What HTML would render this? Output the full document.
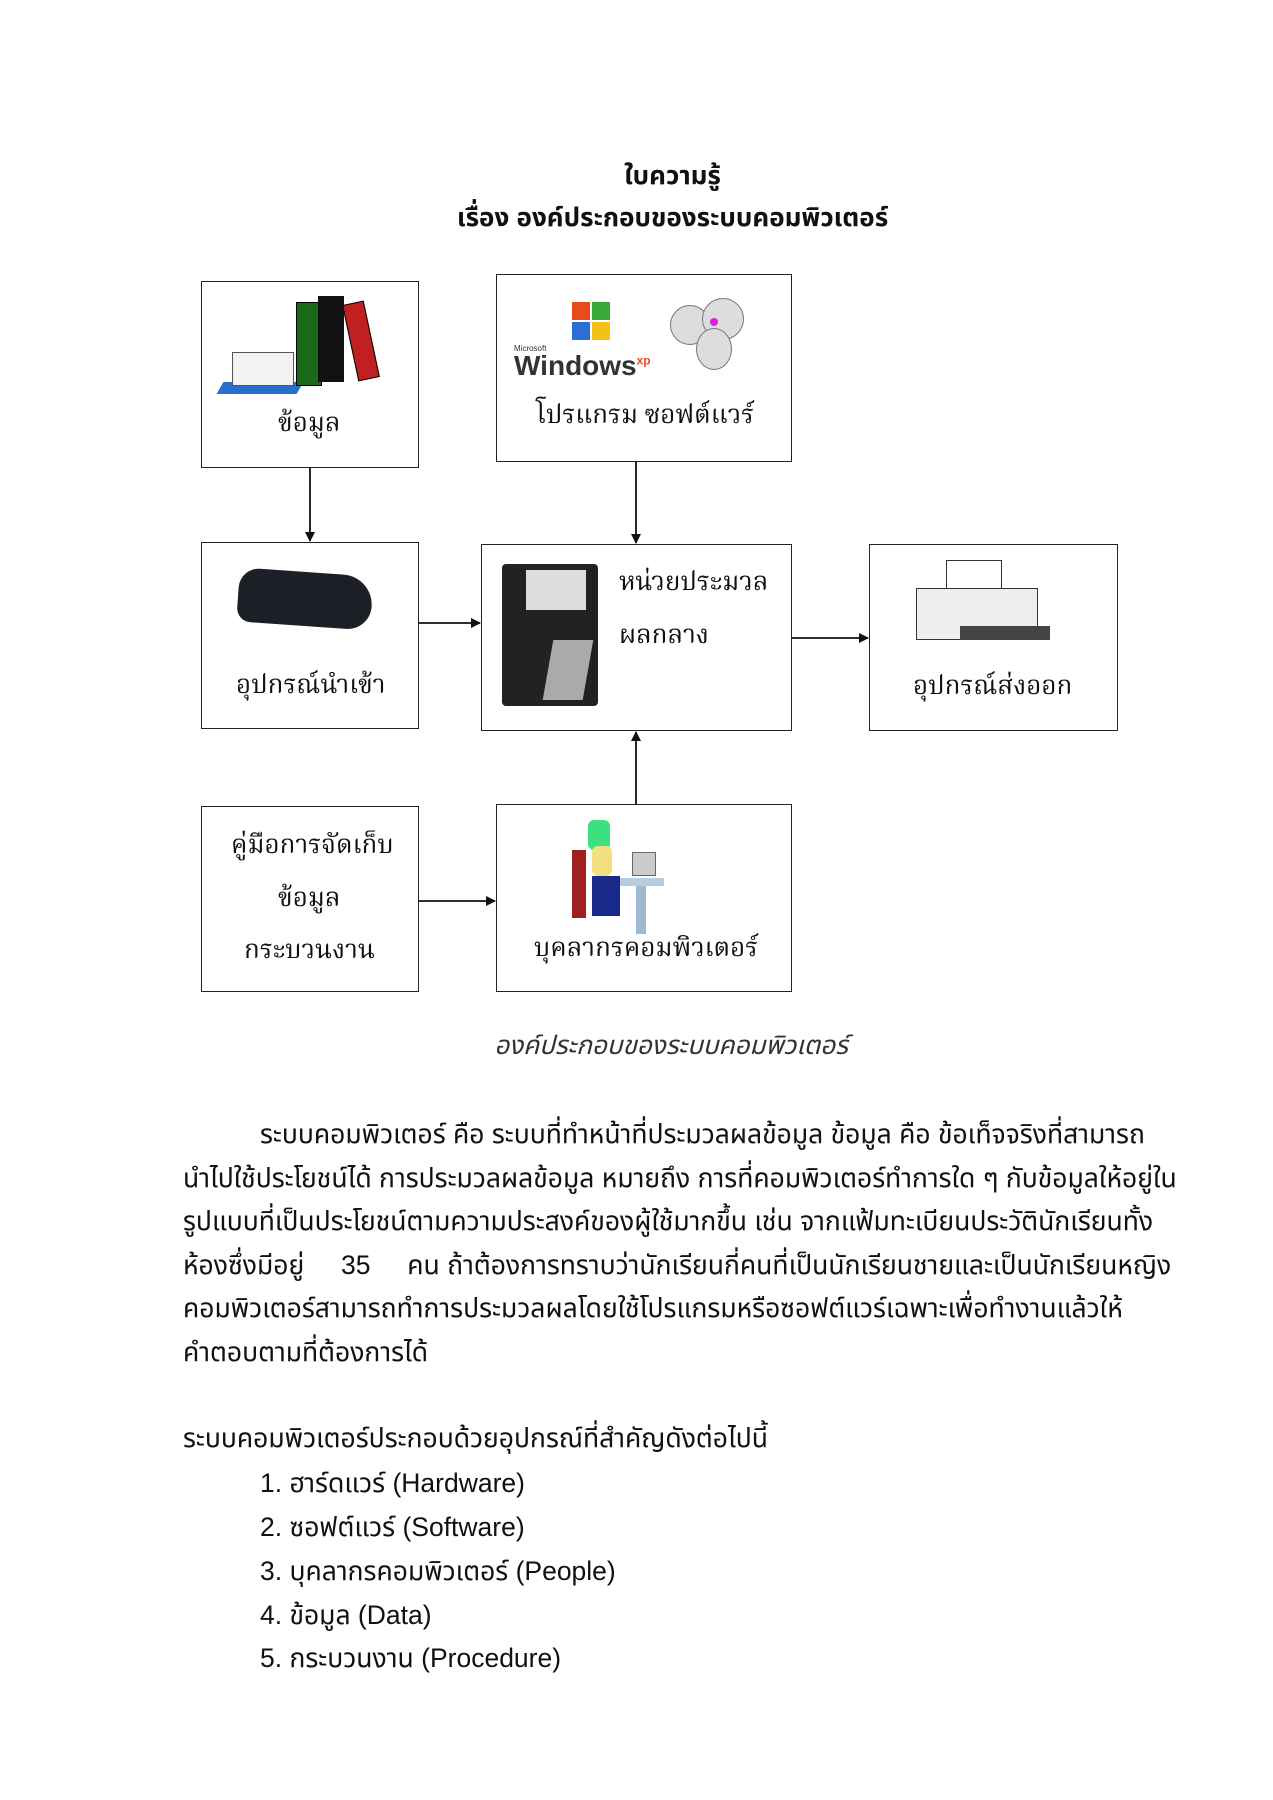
<!DOCTYPE html>
<html><head><meta charset="utf-8">
<style>
html,body{margin:0;padding:0;background:#fff;}
body{width:1273px;height:1800px;position:relative;overflow:hidden;font-family:"Liberation Sans","Noto Sans Thai","Loma","Garuda",sans-serif;color:#111;}
.t{position:absolute;white-space:nowrap;}
.box{position:absolute;border:1.5px solid #222;box-sizing:border-box;background:#fff;}
.lbl{position:absolute;font-family:"Liberation Serif","Norasi","Noto Serif Thai",serif;font-size:26px;white-space:nowrap;}
.p{position:absolute;left:183px;font-size:26.5px;white-space:nowrap;}
</style></head><body>

<div class="t" style="left:0;width:1345px;text-align:center;top:156px;font-size:26px;font-weight:bold;">ใบความรู้</div>
<div class="t" style="left:0;width:1345px;text-align:center;top:198px;font-size:26px;font-weight:bold;">เรื่อง องค์ประกอบของระบบคอมพิวเตอร์</div>

<div class="box" style="left:201px;top:281px;width:218px;height:187px;"></div>
<div class="box" style="left:496px;top:274px;width:296px;height:188px;"></div>
<div class="box" style="left:201px;top:542px;width:218px;height:187px;"></div>
<div class="box" style="left:481px;top:544px;width:311px;height:187px;"></div>
<div class="box" style="left:869px;top:544px;width:249px;height:187px;"></div>
<div class="box" style="left:201px;top:806px;width:218px;height:186px;"></div>
<div class="box" style="left:496px;top:804px;width:296px;height:188px;"></div>

<div style="position:absolute;left:220px;top:382px;width:80px;height:12px;background:#2a6fd0;transform:skewX(-30deg);"></div>
<div style="position:absolute;left:232px;top:352px;width:60px;height:32px;background:#f2f2f2;border:1px solid #555;"></div>
<div style="position:absolute;left:296px;top:302px;width:24px;height:82px;background:#1a6a1a;border:1px solid #000;"></div>
<div style="position:absolute;left:318px;top:296px;width:26px;height:86px;background:#111;"></div>
<div style="position:absolute;left:350px;top:302px;width:20px;height:76px;background:#c02020;border:1px solid #000;transform:rotate(-12deg);"></div>
<div style="position:absolute;left:572px;top:302px;width:18px;height:18px;background:#e84b1c;"></div>
<div style="position:absolute;left:592px;top:302px;width:18px;height:18px;background:#3aa83a;"></div>
<div style="position:absolute;left:572px;top:322px;width:18px;height:18px;background:#2b6ed8;"></div>
<div style="position:absolute;left:592px;top:322px;width:18px;height:18px;background:#f5c01a;"></div>
<div class="t" style="left:514px;top:350px;font-size:28px;font-weight:bold;color:#333;">Windows<sup style="font-size:12px;color:#e84b1c">xp</sup></div>
<div class="t" style="left:514px;top:344px;font-size:8px;color:#333;">Microsoft</div>
<div style="position:absolute;left:670px;top:305px;width:38px;height:38px;border-radius:50%;background:#ddd;border:1px solid #777;"></div>
<div style="position:absolute;left:702px;top:298px;width:40px;height:40px;border-radius:50%;background:#ddd;border:1px solid #777;"></div>
<div style="position:absolute;left:696px;top:328px;width:34px;height:40px;border-radius:50%;background:#ddd;border:1px solid #777;"></div>
<div style="position:absolute;left:710px;top:318px;width:8px;height:8px;border-radius:50%;background:#e020e0;"></div>
<div class="lbl" style="left:536px;top:395px;">โปรแกรม ซอฟต์แวร์</div>
<div class="lbl" style="left:278px;top:403px;">ข้อมูล</div>
<div style="position:absolute;left:238px;top:572px;width:134px;height:54px;background:#1d1f26;border-radius:20px 30px 24px 14px;transform:rotate(4deg);"></div>
<div class="lbl" style="left:236px;top:665px;">อุปกรณ์นำเข้า</div>
<div style="position:absolute;left:502px;top:564px;width:96px;height:142px;background:#222;border-radius:4px;"></div>
<div style="position:absolute;left:526px;top:570px;width:60px;height:40px;background:#ddd;"></div>
<div style="position:absolute;left:548px;top:640px;width:40px;height:60px;background:#aaa;transform:skewX(-10deg);"></div>
<div class="lbl" style="left:619px;top:562px;">หน่วยประมวล</div>
<div class="lbl" style="left:619px;top:615px;">ผลกลาง</div>
<div style="position:absolute;left:946px;top:560px;width:54px;height:36px;background:#fff;border:1px solid #333;"></div>
<div style="position:absolute;left:916px;top:588px;width:120px;height:50px;background:#eee;border:1px solid #333;"></div>
<div style="position:absolute;left:960px;top:626px;width:90px;height:14px;background:#444;"></div>
<div class="lbl" style="left:913px;top:666px;">อุปกรณ์ส่งออก</div>
<div class="lbl" style="left:231px;top:825px;">คู่มือการจัดเก็บ</div>
<div class="lbl" style="left:278px;top:878px;">ข้อมูล</div>
<div class="lbl" style="left:244px;top:930px;">กระบวนงาน</div>
<div style="position:absolute;left:588px;top:820px;width:22px;height:30px;background:#3ce080;border-radius:6px;"></div>
<div style="position:absolute;left:572px;top:850px;width:14px;height:68px;background:#a02020;"></div>
<div style="position:absolute;left:592px;top:846px;width:20px;height:30px;background:#f0e080;border-radius:6px;"></div>
<div style="position:absolute;left:592px;top:876px;width:28px;height:40px;background:#1a2a8a;"></div>
<div style="position:absolute;left:632px;top:852px;width:22px;height:22px;background:#ccc;border:1px solid #666;"></div>
<div style="position:absolute;left:620px;top:878px;width:44px;height:8px;background:#b8cce0;"></div>
<div style="position:absolute;left:636px;top:886px;width:10px;height:48px;background:#a0b8d0;"></div>
<div class="lbl" style="left:534px;top:928px;">บุคลากรคอมพิวเตอร์</div>

<svg style="position:absolute;left:0;top:0" width="1273" height="1800">
<defs><marker id="a" markerWidth="10" markerHeight="10" refX="9" refY="5" orient="auto" markerUnits="userSpaceOnUse"><path d="M0,0 L10,5 L0,10 z" fill="#111"/></marker></defs>
<g stroke="#111" stroke-width="1.8" fill="none" marker-end="url(#a)">
<line x1="310" y1="468" x2="310" y2="541"/>
<line x1="636" y1="462" x2="636" y2="543"/>
<line x1="419" y1="623" x2="480" y2="623"/>
<line x1="792" y1="638" x2="868" y2="638"/>
<line x1="636" y1="804" x2="636" y2="732"/>
<line x1="419" y1="901" x2="495" y2="901"/>
</g></svg>

<div class="t" style="left:0;width:1342px;text-align:center;top:1026px;font-size:26px;font-style:italic;color:#333;">องค์ประกอบของระบบคอมพิวเตอร์</div>

<div class="p" style="left:260px;top:1115px;">ระบบคอมพิวเตอร์ คือ ระบบที่ทำหน้าที่ประมวลผลข้อมูล ข้อมูล คือ ข้อเท็จจริงที่สามารถ</div>
<div class="p" style="top:1159px;">นำไปใช้ประโยชน์ได้ การประมวลผลข้อมูล หมายถึง การที่คอมพิวเตอร์ทำการใด ๆ กับข้อมูลให้อยู่ใน</div>
<div class="p" style="top:1202px;">รูปแบบที่เป็นประโยชน์ตามความประสงค์ของผู้ใช้มากขึ้น เช่น จากแฟ้มทะเบียนประวัตินักเรียนทั้ง</div>
<div class="p" style="top:1246px;">ห้องซึ่งมีอยู่ &nbsp;&nbsp;&nbsp; 35 &nbsp;&nbsp;&nbsp; คน ถ้าต้องการทราบว่านักเรียนกี่คนที่เป็นนักเรียนชายและเป็นนักเรียนหญิง</div>
<div class="p" style="top:1289px;">คอมพิวเตอร์สามารถทำการประมวลผลโดยใช้โปรแกรมหรือซอฟต์แวร์เฉพาะเพื่อทำงานแล้วให้</div>
<div class="p" style="top:1333px;">คำตอบตามที่ต้องการได้</div>

<div class="p" style="top:1419px;">ระบบคอมพิวเตอร์ประกอบด้วยอุปกรณ์ที่สำคัญดังต่อไปนี้</div>
<div class="p" style="left:260px;top:1464px;">1. ฮาร์ดแวร์ (Hardware)</div>
<div class="p" style="left:260px;top:1508px;">2. ซอฟต์แวร์ (Software)</div>
<div class="p" style="left:260px;top:1552px;">3. บุคลากรคอมพิวเตอร์ (People)</div>
<div class="p" style="left:260px;top:1596px;">4. ข้อมูล (Data)</div>
<div class="p" style="left:260px;top:1639px;">5. กระบวนงาน (Procedure)</div>

</body></html>
